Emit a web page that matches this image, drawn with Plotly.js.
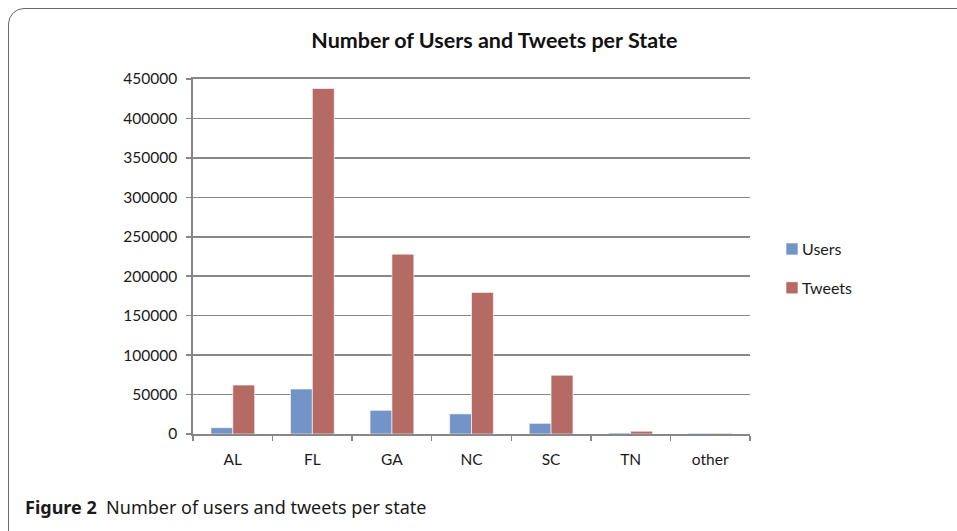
<!DOCTYPE html>
<html>
<head>
<meta charset="utf-8">
<script src="https://cdn.plot.ly/plotly-3.0.1.min.js"></script>
<style>
  html, body { margin: 0; padding: 0; background: #fff; overflow: hidden; }
  #frame {
    position: absolute; left: 8px; top: 8px; width: 980px; height: 560px;
    border: 1px solid #6a6a6a; border-radius: 16px; box-sizing: border-box;
  }
  #chart { position: absolute; left: 0; top: 0; width: 957px; height: 531px; }
</style>
</head>
<body>
<div id="frame"></div>
<div id="chart"></div>
<script>
// Users and tweets collected per state
const states = ["AL", "FL", "GA", "NC", "SC", "TN", "other"];
const users  = [8000, 57000, 30000, 25500, 13500, 1300, 900];
const tweets = [62000, 438000, 228000, 179500, 74500, 3500, 900];
const yTicks = [0, 50000, 100000, 150000, 200000, 250000, 300000, 350000, 400000, 450000];

const chartFont = "Lato, 'Liberation Sans', sans-serif";
const tickFont = { family: chartFont, size: 15.5, color: "#1a1a1a" };

const traces = [
  { type: "bar", name: "Users", x: states, y: users,
    marker: { color: "#7394C6", line: { color: "#ffffff", width: 0.6 } },
    legendgroup: "u" },
  { type: "bar", name: "Tweets", x: states, y: tweets,
    marker: { color: "#B56A64", line: { color: "#ffffff", width: 0.6 } },
    legendgroup: "t" }
];

const layout = {
  width: 957, height: 531,
  margin: { l: 193, r: 207, t: 79, b: 97, pad: 0 },
  paper_bgcolor: "rgba(0,0,0,0)",
  plot_bgcolor: "#ffffff",
  font: { family: chartFont, size: 15.5, color: "#1a1a1a" },
  title: {
    text: "<b>Number of Users and Tweets per State</b>",
    font: { family: chartFont, size: 21.5, color: "#111" },
    x: 0.541, xref: "paper", xanchor: "center", y: 0.923, yanchor: "middle"
  },
  barmode: "group",
  bargap: 0.45,
  bargroupgap: 0,
  xaxis: {
    type: "category",
    showgrid: false,
    showline: true, mirror: true, linecolor: "#878787", linewidth: 1.6,
    ticks: "outside", tickson: "boundaries", ticklen: 5, tickcolor: "#878787", tickwidth: 1.5,
    tickfont: tickFont, ticklabelstandoff: 11,
    automargin: false
  },
  yaxis: {
    range: [0, 450000],
    tickvals: yTicks,
    ticktext: yTicks.map(String),
    showgrid: true, gridcolor: "#878787", gridwidth: 1.6,
    zeroline: false,
    showline: true, linecolor: "#878787", linewidth: 1.6,
    ticks: "outside", ticklen: 5, tickcolor: "#878787", tickwidth: 1.5,
    tickfont: tickFont, ticklabelstandoff: 6,
    automargin: false
  },
  legend: {
    x: 1.0395, xanchor: "left", y: 0.466, yanchor: "middle",
    font: { family: chartFont, size: 16, color: "#1a1a1a" },
    tracegroupgap: 15, itemwidth: 30, bgcolor: "rgba(0,0,0,0)"
  },
  annotations: [{
    xref: "paper", yref: "paper", x: -0.305, y: -0.205,
    xanchor: "left", yanchor: "middle", showarrow: false,
    text: "<b>Figure 2</b>  Number of users and tweets per state",
    font: { family: "'Noto Sans', 'Open Sans', sans-serif", size: 18, color: "#1a1a1a" }
  }]
};

Plotly.newPlot("chart", traces, layout, { displayModeBar: false, staticPlot: true }).then(gd => {
  // pull legend labels closer to their swatches
  gd.querySelectorAll(".legend .legendtext").forEach(t => t.setAttribute("x", 30));
});
</script>
</body>
</html>
